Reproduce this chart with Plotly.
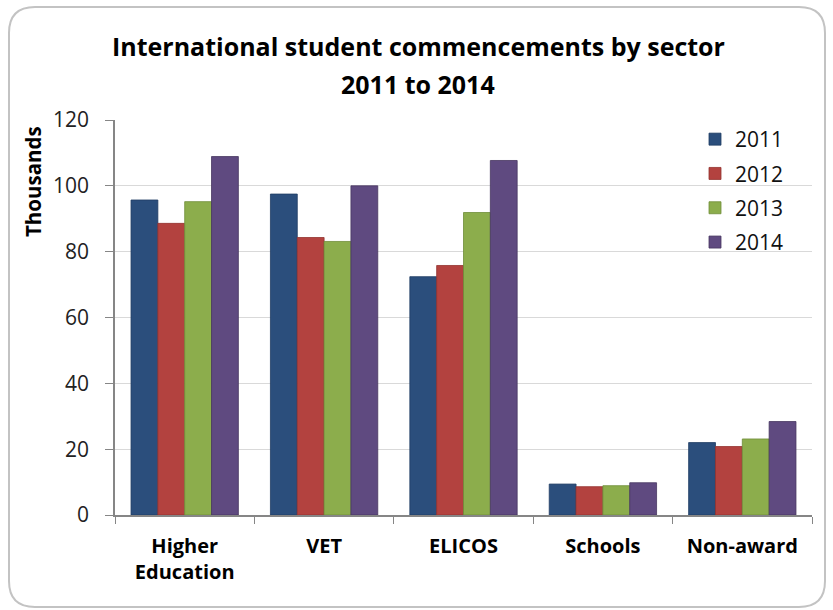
import plotly.graph_objects as go

categories = ["Higher<br>Education", "VET", "ELICOS", "Schools", "Non-award"]
years = ["2011", "2012", "2013", "2014"]
v2011 = [95.7, 97.5, 72.4, 9.4, 22.0]
v2012 = [88.6, 84.3, 75.8, 8.6, 20.8]
v2013 = [95.2, 83.1, 91.9, 8.9, 23.1]
v2014 = [108.9, 100.0, 107.7, 9.8, 28.4]
series = [v2011, v2012, v2013, v2014]
colors = ["#2b4e7c", "#b3423f", "#8cad4c", "#5f4a80"]
line_colors = ["#1f3c63", "#93322f", "#6f8d38", "#46365f"]
y_ticks = [0, 20, 40, 60, 80, 100, 120]

W, H = 833, 610
ML, MR, MT, MB = 115, 21, 120, 95
PW, PH = W - ML - MR, H - MT - MB

FONT = "Open Sans"

fig = go.Figure()
for name, vals, c, lc in zip(years, series, colors, line_colors):
    fig.add_trace(go.Bar(x=categories, y=vals, name=name, legendgroup=name,
                         marker=dict(color=c, line=dict(color=lc, width=0.8))))


def px(x):
    return (x - ML) / PW


def py(y):
    return (H - MB - y) / PH


# rounded border
x0, x1, y0, y1, r = 9, 825, 7, 607, 26
path = (f"M{px(x0 + r)},{py(y0)} L{px(x1 - r)},{py(y0)} "
        f"Q{px(x1)},{py(y0)} {px(x1)},{py(y0 + r)} "
        f"L{px(x1)},{py(y1 - r)} Q{px(x1)},{py(y1)} {px(x1 - r)},{py(y1)} "
        f"L{px(x0 + r)},{py(y1)} Q{px(x0)},{py(y1)} {px(x0)},{py(y1 - r)} "
        f"L{px(x0)},{py(y0 + r)} Q{px(x0)},{py(y0)} {px(x0 + r)},{py(y0)} Z")

fig.update_layout(
    width=W, height=H,
    margin=dict(l=ML, r=MR, t=MT, b=MB, autoexpand=False),
    paper_bgcolor="white", plot_bgcolor="white",
    barmode="group", bargap=0.23, bargroupgap=0,
    font=dict(family=FONT, color="#000000"),
    showlegend=True,
    legend=dict(x=px(695), y=py(119), xanchor="left", yanchor="top",
                font=dict(size=21, family=FONT, color="#111"),
                bgcolor="rgba(0,0,0,0)", itemwidth=30, tracegroupgap=4),
    shapes=[dict(type="path", path=path, xref="paper", yref="paper",
                 line=dict(color="#c3c3c3", width=2), layer="below")],
    annotations=[
        dict(text="International student commencements by sector",
             xref="paper", yref="paper", x=px(418), y=py(46), showarrow=False,
             xanchor="center", yanchor="middle",
             font=dict(size=25, family=FONT, weight="bold", color="#000")),
        dict(text="2011 to 2014",
             xref="paper", yref="paper", x=px(418), y=py(84), showarrow=False,
             xanchor="center", yanchor="middle",
             font=dict(size=25, family=FONT, weight="bold", color="#000")),
        dict(text="Thousands", textangle=-90,
             xref="paper", yref="paper", x=px(33), y=py(182), showarrow=False,
             xanchor="center", yanchor="middle",
             font=dict(size=20.5, family=FONT, weight="bold", color="#000")),
    ],
)
fig.update_xaxes(showline=True, linecolor="#868686", linewidth=1.5,
                 ticks="outside", tickson="boundaries", ticklen=7, tickcolor="#868686",
                 tickfont=dict(size=20, family=FONT, weight="bold", color="#000"),
                 ticklabelstandoff=12, showgrid=False)
fig.update_yaxes(range=[0, 120], tickvals=y_ticks, showline=True, linecolor="#868686",
                 linewidth=1.5, ticks="outside", ticklen=8, tickcolor="#868686",
                 tickfont=dict(size=21, family=FONT, color="#222"),
                 ticklabelstandoff=12,
                 showgrid=True, gridcolor="#d9d9d9", gridwidth=1, zeroline=False)
fig.write_html("out.html", config={"displayModeBar": False},
               post_script="document.body.style.margin='0';")
